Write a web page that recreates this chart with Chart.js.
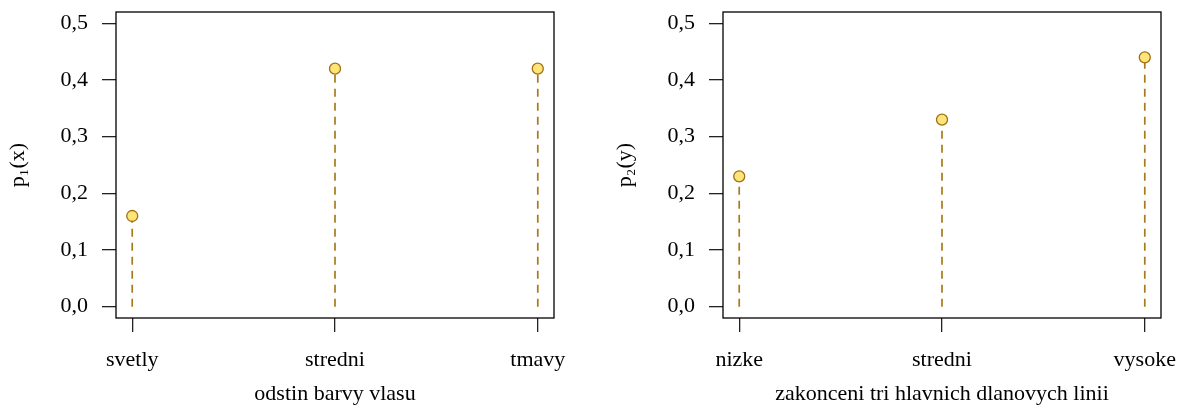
<!DOCTYPE html>
<html>
<head>
<meta charset="utf-8">
<script src="https://cdn.jsdelivr.net/npm/chart.js@4.4.1/dist/chart.umd.min.js"></script>
<style>
    html, body { margin: 0; padding: 0; background: #fff; }
    body { width: 1180px; height: 407px; position: relative; overflow: hidden; }
    .panel { position: absolute; top: 0; width: 573px; height: 407px; }
</style>
</head>
<body>
<div class="panel" style="left:0px"><canvas id="chartLeft"></canvas></div>
<div class="panel" style="left:607px"><canvas id="chartRight"></canvas></div>

<script>
// data
const hairCategories = ["svetly", "stredni", "tmavy"];
const hairValues = [0.16, 0.42, 0.42];
const lineCategories = ["nizke", "stredni", "vysoke"];
const lineValues = [0.23, 0.33, 0.44];
const yTickValues = [0, 0.1, 0.2, 0.3, 0.4, 0.5];
const yTickLabels = ["0,0", "0,1", "0,2", "0,3", "0,4", "0,5"];

const stemColor = "#A87A1E";
const pointFill = "#FFE47A";
const pointEdge = "#A07212";

Chart.defaults.font.family = "'Liberation Serif', 'DejaVu Serif', serif";
Chart.defaults.font.size = 22;
Chart.defaults.color = "#000";

// box around the plot area (R style)
const boxPlugin = {
    id: "plotBox",
    afterDraw(chart) {
        const a = chart.chartArea;
        const ctx = chart.ctx;
        ctx.save();
        ctx.strokeStyle = "#000";
        ctx.lineWidth = 1.3;
        ctx.strokeRect(a.left, a.top, a.right - a.left, a.bottom - a.top);
        ctx.restore();
    }
};

// keep the plot area fixed, no automatic label padding
function noPad(scale) {
    scale.paddingTop = 0;
    scale.paddingBottom = 0;
    scale.paddingLeft = 0;
    scale.paddingRight = 0;
}

function makeChart(canvasId, categories, values, yTitle, xTitle) {
    const ctx = document.getElementById(canvasId).getContext("2d");

    const datasets = [
        {
            type: "scatter",
            data: values.map((v, i) => ({ x: i, y: v })),
            pointRadius: 5.5,
            pointBackgroundColor: pointFill,
            pointBorderColor: pointEdge,
            pointBorderWidth: 1.3,
            showLine: false
        }
    ];
    // dashed stems from 0 up to each value
    values.forEach((v, i) => {
        datasets.push({
            type: "line",
            data: [{ x: i, y: 0 }, { x: i, y: v }],
            borderColor: stemColor,
            borderWidth: 1.7,
            borderDash: [8, 6],
            pointRadius: 0
        });
    });

    return new Chart(ctx, {
        type: "scatter",
        data: { datasets: datasets },
        options: {
            responsive: true,
            maintainAspectRatio: false,
            animation: false,
            layout: { padding: { top: 12, left: 0, right: 19, bottom: 0 } },
            scales: {
                x: {
                    type: "linear",
                    min: -0.08,
                    max: categories.length - 1 + 0.08,
                    afterBuildTicks: (scale) => {
                        scale.ticks = categories.map((c, i) => ({ value: i }));
                    },
                    afterFit: (scale) => {
                        scale.height = 89;
                        noPad(scale);
                    },
                    ticks: {
                        padding: 15,
                        maxRotation: 0,
                        autoSkip: false,
                        callback: (v) => categories[v]
                    },
                    grid: {
                        drawOnChartArea: false,
                        drawTicks: true,
                        tickLength: 14,
                        color: "#222",
                        lineWidth: 1.3
                    },
                    border: { display: false },
                    title: {
                        display: true,
                        text: xTitle,
                        padding: { top: 0, bottom: 0 }
                    }
                },
                y: {
                    min: -0.02,
                    max: 0.52,
                    afterBuildTicks: (scale) => {
                        scale.ticks = yTickValues.map((v) => ({ value: v }));
                    },
                    afterFit: (scale) => {
                        scale.width = 116;
                        noPad(scale);
                    },
                    ticks: {
                        padding: 14,
                        callback: (v) => yTickLabels[yTickValues.indexOf(v)]
                    },
                    grid: {
                        drawOnChartArea: false,
                        drawTicks: true,
                        tickLength: 14,
                        color: "#222",
                        lineWidth: 1.3
                    },
                    border: { display: false },
                    title: {
                        display: true,
                        text: yTitle,
                        padding: { top: 5, bottom: 0 }
                    }
                }
            },
            plugins: {
                legend: { display: false },
                tooltip: { enabled: false }
            }
        },
        plugins: [boxPlugin]
    });
}

makeChart("chartLeft", hairCategories, hairValues, "p\u2081(x)", "odstin barvy vlasu");
makeChart("chartRight", lineCategories, lineValues, "p\u2082(y)", "zakonceni tri hlavnich dlanovych linii");
</script>
</body>
</html>
